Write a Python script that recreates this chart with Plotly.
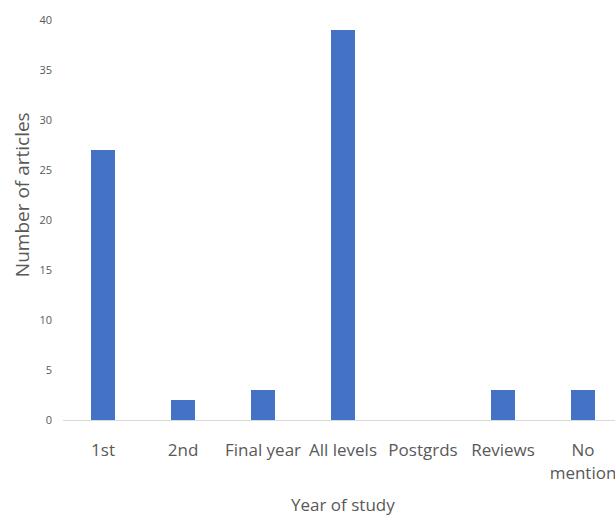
import plotly.graph_objects as go

categories = ["1st", "2nd", "Final year", "All levels", "Postgrds", "Reviews", "No<br>mention"]
articles = [27, 2, 3, 39, 0, 3, 3]
y_ticks = [0, 5, 10, 15, 20, 25, 30, 35, 40]

font_family = "Open Sans, sans-serif"
text_grey = "#595959"

fig = go.Figure(
    go.Bar(
        x=list(range(len(categories))),
        y=articles,
        marker_color="#4472C4",
        marker_line_width=0,
        width=0.3,
    )
)

fig.update_layout(
    width=615,
    height=516,
    margin=dict(l=63, r=0, t=20, b=96),
    plot_bgcolor="white",
    paper_bgcolor="white",
    showlegend=False,
    font=dict(family=font_family, color=text_grey),
)

fig.update_xaxes(
    range=[-0.5, 6.4],
    tickmode="array",
    tickvals=list(range(len(categories))),
    ticktext=categories,
    tickfont=dict(size=17, color=text_grey),
    ticks="",
    ticklabelstandoff=15,
    ticklabeloverflow="allow",
    showline=True,
    linecolor="#D9D9D9",
    linewidth=1,
    showgrid=False,
    zeroline=False,
)

fig.update_yaxes(
    range=[0, 40],
    tickmode="array",
    tickvals=y_ticks,
    tickfont=dict(size=11, color=text_grey),
    ticks="",
    ticklabelstandoff=10,
    showgrid=False,
    zeroline=False,
    showline=False,
)

fig.add_annotation(
    text="Number of articles",
    xref="paper", yref="paper",
    x=-0.074, y=0.5625,
    textangle=-90,
    showarrow=False,
    font=dict(size=19, color=text_grey),
    xanchor="center", yanchor="middle",
)
fig.add_annotation(
    text="Year of study",
    xref="x", yref="paper",
    x=3, y=-0.21,
    showarrow=False,
    font=dict(size=17, color=text_grey),
    xanchor="center", yanchor="middle",
)

fig.write_html("out.html")
